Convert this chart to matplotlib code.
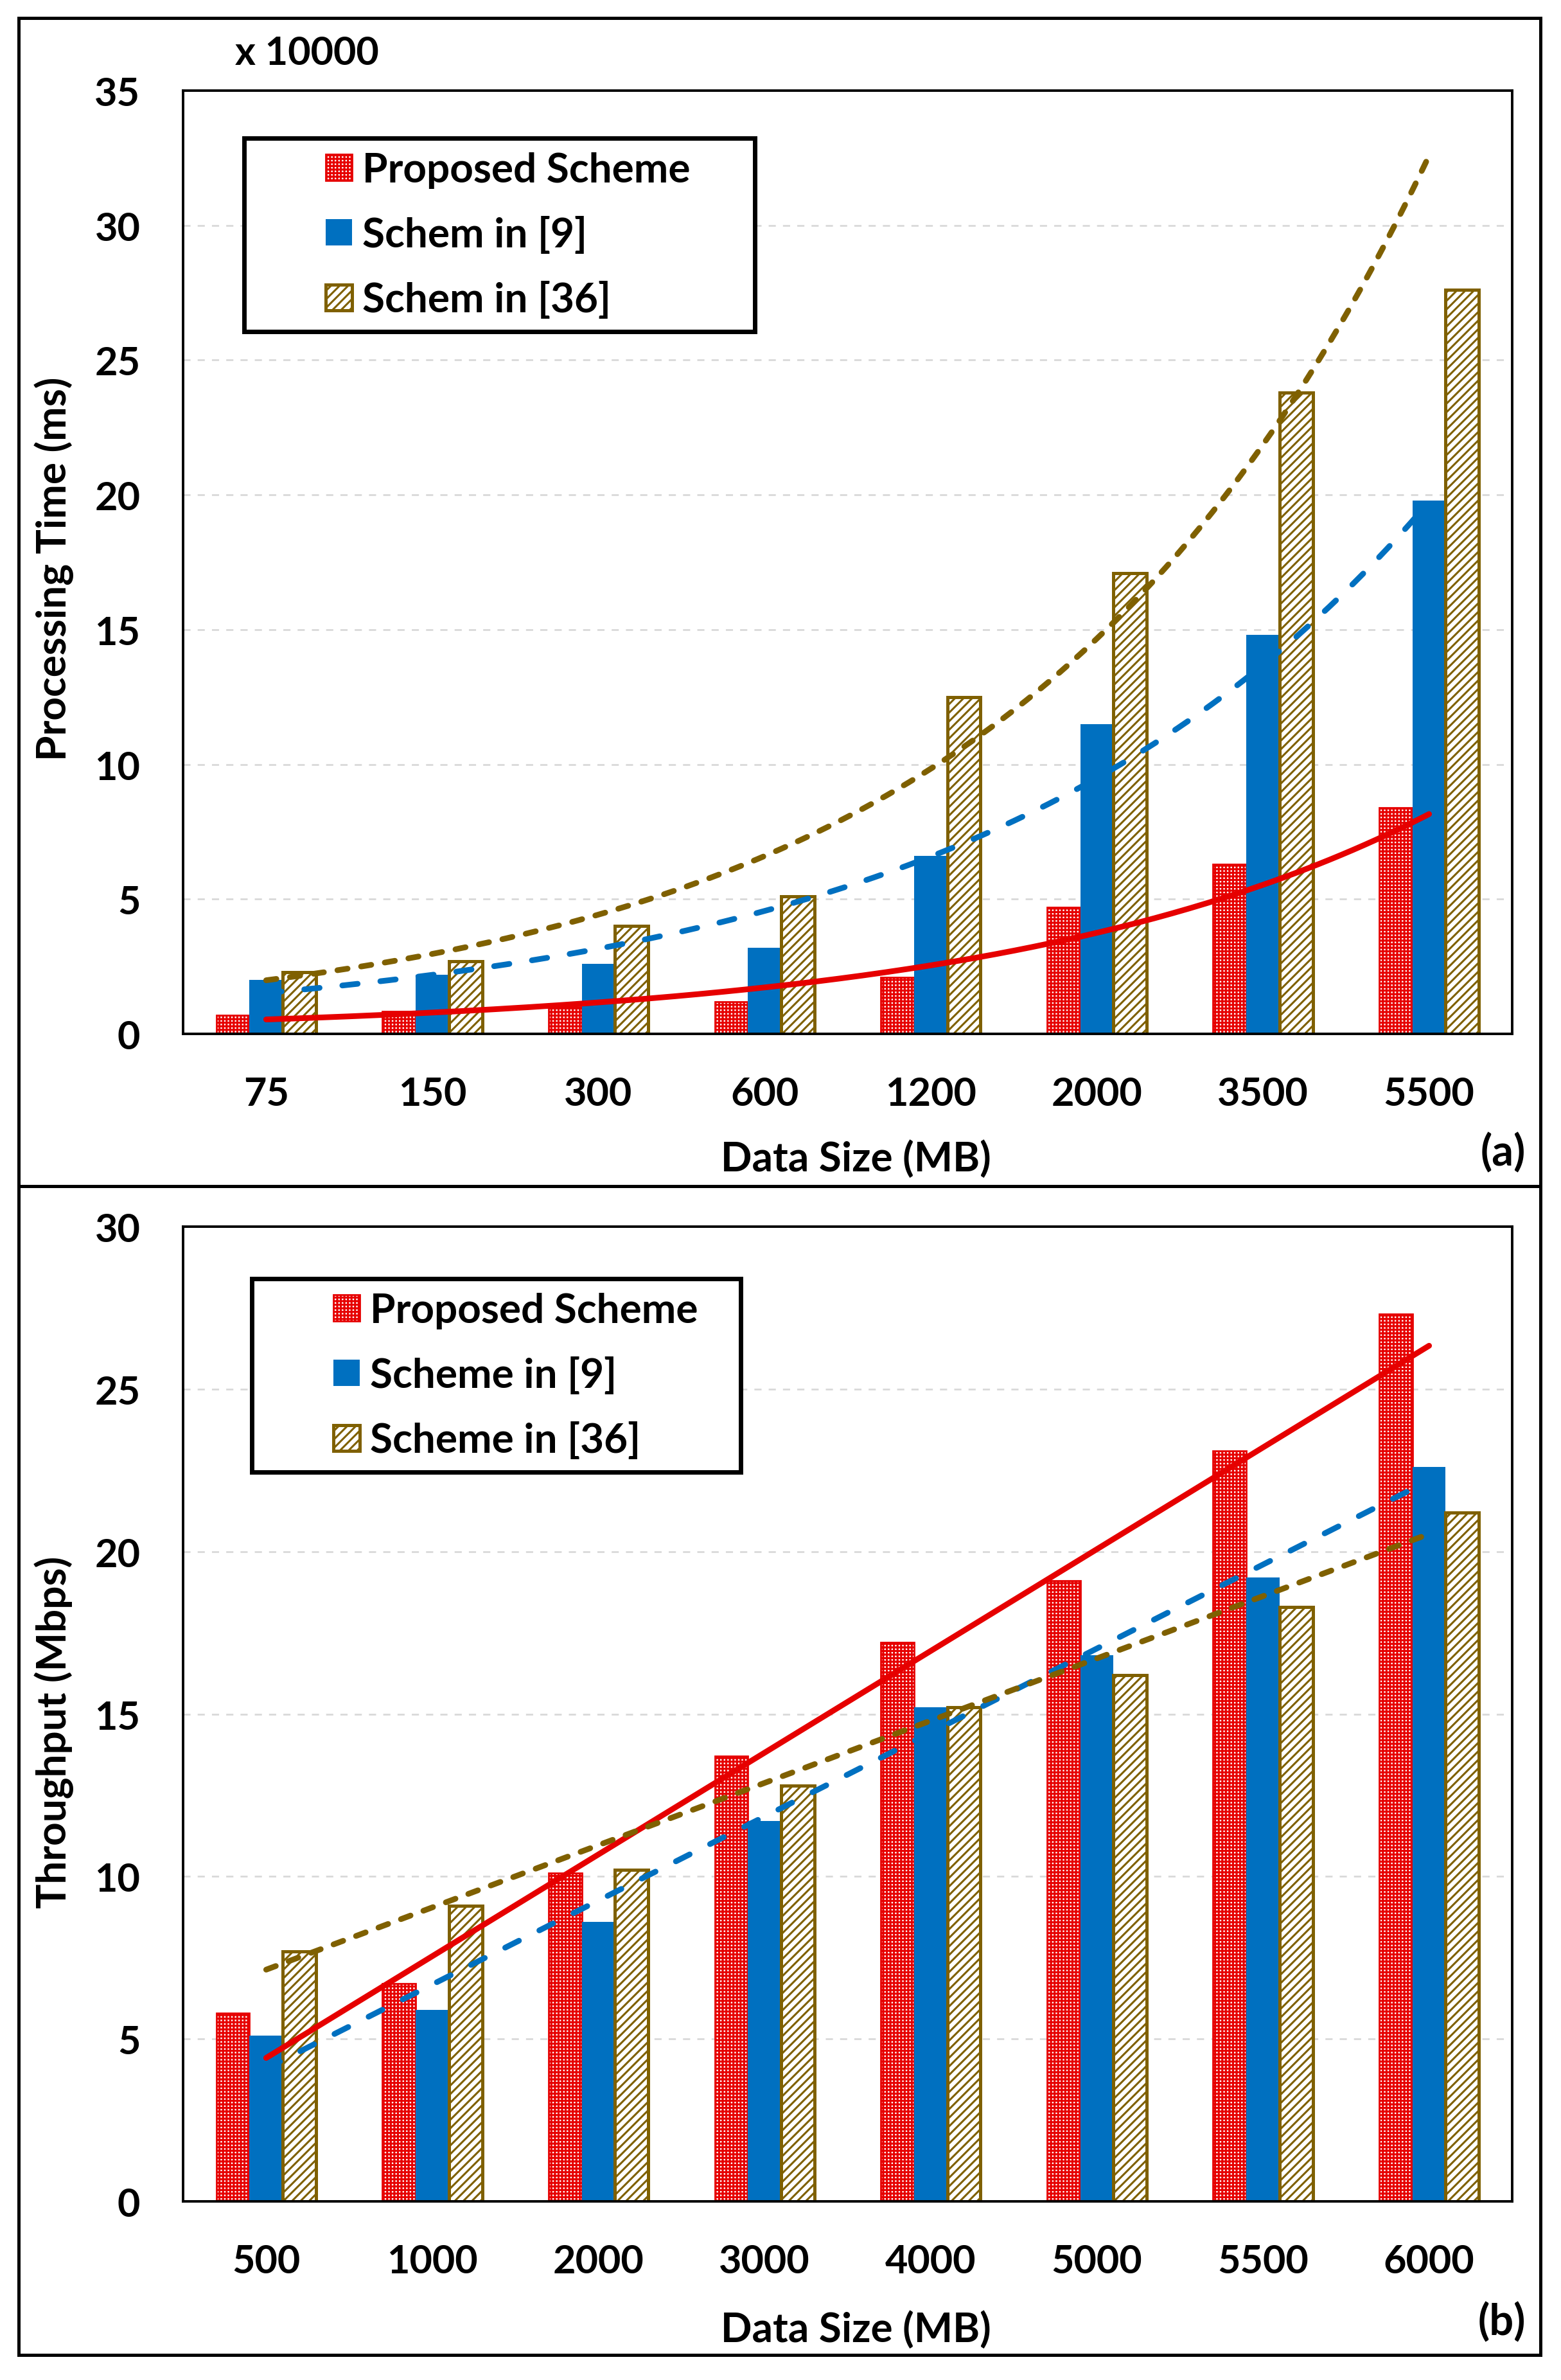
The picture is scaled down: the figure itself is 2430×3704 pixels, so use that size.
import numpy as np
import matplotlib
matplotlib.use("Agg")
import matplotlib.pyplot as plt
from matplotlib.patches import Rectangle
from matplotlib.legend_handler import HandlerPatch
from matplotlib.lines import Line2D

# (a) processing time, x 10000 ms
sizes_a = ["75", "150", "300", "600", "1200", "2000", "3500", "5500"]
proposed_a = [0.7, 0.85, 1.0, 1.2, 2.1, 4.7, 6.3, 8.4]
scheme9_a = [2.0, 2.2, 2.6, 3.2, 6.6, 11.5, 14.8, 19.8]
scheme36_a = [2.3, 2.7, 4.0, 5.1, 12.5, 17.1, 23.8, 27.6]
labels_a = ["Proposed Scheme", "Schem in [9]", "Schem in [36]"]

# (b) throughput, Mbps
sizes_b = ["500", "1000", "2000", "3000", "4000", "5000", "5500", "6000"]
proposed_b = [5.8, 6.7, 10.1, 13.7, 17.2, 19.1, 23.1, 27.3]
scheme9_b = [5.1, 5.9, 8.6, 11.7, 15.2, 16.8, 19.2, 22.6]
scheme36_b = [7.7, 9.1, 10.2, 12.8, 15.2, 16.2, 18.3, 21.2]
labels_b = ["Proposed Scheme", "Scheme in [9]", "Scheme in [36]"]

RED = "#E60000"
BLUE = "#0070C0"
GOLD = "#7F6000"

plt.rcParams['font.family'] = ['Lato', 'DejaVu Sans']
plt.rcParams['font.weight'] = 'bold'
plt.rcParams['hatch.linewidth'] = 1.1


def legend_box(legend, orig_handle, xdescent, ydescent, width, height, fontsize):
    s = 0.64 * fontsize
    return Rectangle((-xdescent + width - s, -ydescent + (height - s) / 2), s, s)


def trend(x, y, kind):
    # excel-style trendline fitted to the bar values
    xs = np.linspace(x[0], x[-1], 200)
    if kind == "exp":
        c = np.polyfit(x, np.log(y), 1)
        return xs, np.exp(np.polyval(c, xs))
    c = np.polyfit(x, y, 1)
    return xs, np.polyval(c, xs)


def draw_panel(ax, cats, series, labels, kind, ymax, ylabel, ylab_y, leg_box):
    x = np.arange(len(cats))
    w = 0.2
    b1 = ax.bar(x - w, series[0], w, color="white", edgecolor=RED, hatch="++++++",
                linewidth=1, zorder=2)
    b2 = ax.bar(x, series[1], w, color=BLUE, linewidth=0, zorder=2)
    b3 = ax.bar(x + w, series[2], w, color="white", edgecolor=GOLD, hatch="/////",
                linewidth=1.8, zorder=2)

    xs, ys = trend(x, series[0], kind)
    ax.plot(xs, ys, color=RED, lw=3.2, solid_capstyle="round", zorder=3)
    xs, ys = trend(x, series[1], kind)
    ax.plot(xs, ys, color=BLUE, lw=3.2, linestyle=(0, (2.7, 4.0)),
            dash_capstyle="round", zorder=3)
    xs, ys = trend(x, series[2], kind)
    ax.plot(xs, ys, color=GOLD, lw=3.2, linestyle=(0, (1.8, 2.4)),
            dash_capstyle="round", zorder=3)

    ax.set_xlim(-0.5, len(cats) - 0.5)
    ax.set_ylim(0, ymax)
    ax.set_yticks(np.arange(0, ymax + 1, 5))
    ax.set_xticks(x)
    ax.set_xticklabels(cats)
    ax.tick_params(axis="both", length=0, labelsize=22)
    ax.tick_params(axis="x", pad=23.5)
    ax.tick_params(axis="y", pad=24)
    ax.yaxis.grid(True, color="#D9D9D9", linestyle=(0, (4, 4)), linewidth=1)
    ax.set_axisbelow(True)
    for sp in ax.spines.values():
        sp.set_linewidth(1.4)
        sp.set_color("black")

    ax.set_xlabel("Data Size (MB)", fontsize=23, fontweight="bold")
    ax.xaxis.set_label_coords(0.506, -0.111)
    ax.set_ylabel(ylabel, fontsize=23, fontweight="bold")
    ax.yaxis.set_label_coords(-0.082, ylab_y)

    leg = ax.legend([b1[0], b2[0], b3[0]], labels, loc="upper left",
                    bbox_to_anchor=leg_box, mode="expand", borderaxespad=0,
                    fontsize=23, handlelength=2.3, handleheight=0.7,
                    handletextpad=0.25, labelspacing=0.66, borderpad=0.33,
                    fancybox=False, framealpha=1, edgecolor="black",
                    handler_map={Rectangle: HandlerPatch(patch_func=legend_box)})
    leg.get_frame().set_linewidth(2.5)


fig = plt.figure(figsize=(12.15, 18.525), dpi=200)
ax_a = fig.add_axes([0.1173, 0.5654, 0.8514, 0.3963])
ax_b = fig.add_axes([0.1173, 0.0750, 0.8514, 0.4095])

draw_panel(ax_a, sizes_a, [proposed_a, scheme9_a, scheme36_a], labels_a, "exp",
           35, "Processing Time (ms)", 0.494, (0.0459, 0, 0.3842, 0.9496))
draw_panel(ax_b, sizes_b, [proposed_b, scheme9_b, scheme36_b], labels_b, "lin",
           30, "Throughput (Mbps)", 0.482, (0.0517, 0, 0.368, 0.9466))

ax_a.text(0.039, 1.040, "x 10000", transform=ax_a.transAxes, fontsize=22,
          fontweight="bold", va="center", ha="left")
fig.text(0.9774, 0.5155, "(a)", fontsize=24, fontweight="bold", ha="right", va="center")
fig.text(0.9774, 0.0243, "(b)", fontsize=24, fontweight="bold", ha="right", va="center")

# outer frame and divider between the two panels
fig.add_artist(Rectangle((0.0119, 0.0105), 0.9749, 0.9817, transform=fig.transFigure,
                         fill=False, lw=1.8, ec="black"))
fig.add_artist(Line2D([0.0119, 0.9868], [0.5015, 0.5015], transform=fig.transFigure,
                      lw=1.8, color="black"))

fig.savefig("out.png", dpi=200)
